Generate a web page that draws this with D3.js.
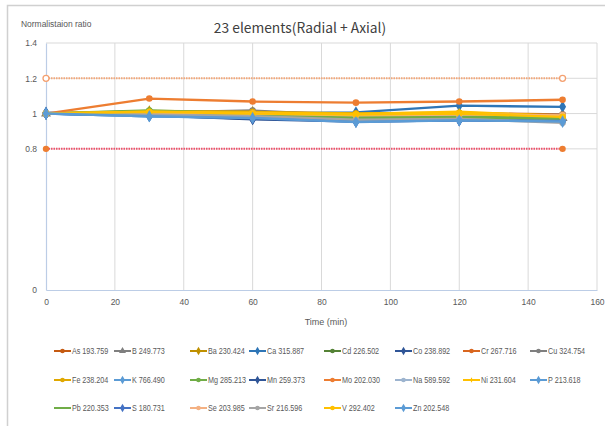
<!DOCTYPE html>
<html><head><meta charset="utf-8">
<script src="https://cdn.jsdelivr.net/npm/d3@7"></script>
<style>
body{margin:0;background:#fff;}
text{font-family:"Liberation Sans",Arial,sans-serif;fill:#595959;}
</style></head>
<body><svg id="c" width="605" height="426"></svg>
<script>
const times = [0, 30, 60, 90, 120, 150];
const xTicks = [0, 20, 40, 60, 80, 100, 120, 140, 160];
const yTicks = [0, 0.8, 1, 1.2, 1.4];
const limitTimes = [0, 150];
const upperLimit = [1.2, 1.2];
const lowerLimit = [0.8, 0.8];

const names = ["As 193.759","B 249.773","Ba 230.424","Ca 315.887","Cd 226.502","Co 238.892","Cr 267.716","Cu 324.754",
 "Fe 238.204","K 766.490","Mg 285.213","Mn 259.373","Mo 202.030","Na 589.592","Ni 231.604","P 213.618",
 "Pb 220.353","S 180.731","Se 203.985","Sr 216.596","V 292.402","Zn 202.548"];
const colors = ["#C55A11","#7F7F7F","#BF9000","#2E75B6","#548235","#2F5597","#D9661F","#7F7F7F",
 "#E0A800","#5B9BD5","#70AD47","#2F5597","#ED7D31","#9DB4CF","#FFC000","#5B9BD5",
 "#70AD47","#4472C4","#F4B183","#A5A5A5","#FFC000","#5B9BD5"];
const markers = ["circle","triangle","diamond","diamond","circle","diamond","circle","circle",
 "circle","diamond","circle","diamond","circle","circle","plus","diamond",
 "none","diamond","circle","circle","circle","diamond"];

const As = [1.0, 1.005, 1.0, 0.99, 0.995, 0.985];
const B  = [1.0, 1.0, 1.005, 0.985, 0.99, 0.975];
const Ba = [1.0, 1.012, 1.008, 0.995, 1.0, 0.99];
const Ca = [1.005, 0.995, 1.0, 1.007, 1.045, 1.038];
const Cd = [1.0, 1.0, 0.995, 0.975, 0.985, 0.97];
const Co = [1.0, 0.99, 0.968, 0.955, 0.962, 0.96];
const Cr = [1.0, 1.005, 1.01, 0.998, 1.002, 0.995];
const Cu = [1.0, 1.005, 1.017, 0.99, 0.985, 0.994];
const Fe = [1.0, 1.015, 1.01, 1.0, 1.005, 0.99];
const K  = [1.0, 0.985, 0.975, 0.958, 0.965, 0.957];
const Mg = [1.0, 1.017, 1.0, 0.985, 0.99, 0.98];
const Mn = [1.0, 0.99, 0.97, 0.96, 0.965, 0.96];
const Mo = [1.0, 1.085, 1.068, 1.062, 1.068, 1.078];
const Na = [1.0, 0.995, 0.985, 0.97, 0.975, 0.968];
const Ni = [1.0, 1.01, 1.005, 0.998, 1.01, 0.985];
const P  = [1.0, 0.985, 0.98, 0.96, 0.968, 0.955];
const Pb = [1.0, 1.0, 0.99, 0.975, 0.98, 0.97];
const S  = [1.0, 0.99, 0.975, 0.955, 0.962, 0.958];
const Se = [1.0, 1.005, 1.0, 0.99, 0.995, 0.99];
const Sr = [1.0, 0.995, 0.985, 0.965, 0.97, 0.948];
const V  = [1.0, 1.01, 1.0, 0.995, 1.0, 0.981];
const Zn = [1.0, 0.985, 0.975, 0.952, 0.962, 0.955];
const values = [As,B,Ba,Ca,Cd,Co,Cr,Cu,Fe,K,Mg,Mn,Mo,Na,Ni,P,Pb,S,Se,Sr,V,Zn];

const svg = d3.select("#c");
// chart frame
svg.append("rect").attr("x",7.5).attr("y",5.5).attr("width",610).attr("height",430)
  .attr("fill","#fff").attr("stroke","#d0d0d0").attr("stroke-width",1.5);

const x = d3.scaleLinear().domain([0,160]).range([46,597]);
const y = d3.scaleLinear().domain([0,1.4]).range([290,43]);

// gridlines
svg.append("g").selectAll("line").data(yTicks.filter(d=>d>0)).join("line")
  .attr("x1",x(0)).attr("x2",x(160)).attr("y1",d=>y(d)).attr("y2",d=>y(d))
  .attr("stroke","#d9d9d9").attr("stroke-width",1);
svg.append("g").selectAll("line").data(xTicks.filter(d=>d>0)).join("line")
  .attr("y1",y(0)).attr("y2",y(1.4)).attr("x1",d=>x(d)).attr("x2",d=>x(d))
  .attr("stroke","#d9d9d9").attr("stroke-width",1);

// axes
const xAxis = svg.append("g").attr("transform",`translate(0,${y(0)})`)
  .call(d3.axisBottom(x).tickValues(xTicks).tickSize(0).tickPadding(9).tickFormat(d3.format("d")));
xAxis.select(".domain").attr("stroke","#bccde6").attr("stroke-width",1.2);
const yAxis = svg.append("g").attr("transform",`translate(${x(0)},0)`)
  .call(d3.axisLeft(y).tickValues(yTicks).tickSize(0).tickPadding(9).tickFormat(d=>String(d)));
yAxis.select(".domain").attr("stroke","#bccde6").attr("stroke-width",1.2);
svg.selectAll(".tick text").attr("font-size",8.5).attr("fill","#595959")
  .attr("font-family",'"Liberation Sans",sans-serif');

// titles
svg.append("text").attr("x",300).attr("y",33).attr("text-anchor","middle")
  .attr("font-size",13.8).style("font-family",'"Noto Sans CJK KR","Noto Sans",sans-serif').style("fill","#404040")
  .text("23 elements(Radial + Axial)");
svg.append("text").attr("transform","translate(21,27) scale(0.94,1)").attr("font-size",9).text("Normalistaion ratio");
svg.append("text").attr("x",326).attr("y",325).attr("text-anchor","middle").attr("font-size",9).text("Time (min)");

const line = d3.line().x(d=>x(d[0])).y(d=>y(d[1]));

function drawMarker(g, type, cx, cy, color, r){
  if(type==="none") return;
  if(type==="circle") g.append("circle").attr("cx",cx).attr("cy",cy).attr("r",r).attr("fill",color);
  else if(type==="diamond") g.append("path").attr("d",d3.symbol(d3.symbolDiamond, r*r*4)()).attr("transform",`translate(${cx},${cy})`).attr("fill",color);
  else if(type==="triangle") g.append("path").attr("d",d3.symbol(d3.symbolTriangle, r*r*4)()).attr("transform",`translate(${cx},${cy})`).attr("fill",color);
  else if(type==="plus") g.append("path").attr("d",`M${cx-r},${cy}H${cx+r}M${cx},${cy-r}V${cy+r}`).attr("stroke",color).attr("stroke-width",1.2);
}

// limit lines
const upPts = limitTimes.map((t,i)=>[t,upperLimit[i]]);
const loPts = limitTimes.map((t,i)=>[t,lowerLimit[i]]);
svg.append("path").attr("d",line(upPts)).attr("fill","none").attr("stroke","#F4A87A").attr("stroke-width",2).attr("stroke-dasharray","1.5,1");
svg.append("path").attr("d",line(loPts)).attr("fill","none").attr("stroke","#F0506A").attr("stroke-width",2).attr("stroke-dasharray","1.5,1");
upPts.forEach(p=>svg.append("circle").attr("cx",x(p[0])).attr("cy",y(p[1])).attr("r",3).attr("fill","#fff").attr("stroke","#F4A070").attr("stroke-width",1.3));
loPts.forEach(p=>svg.append("circle").attr("cx",x(p[0])).attr("cy",y(p[1])).attr("r",3.2).attr("fill","#ED7D31"));

// series
const sg = svg.append("g");
d3.range(names.length).forEach(i=>{
  const pts = times.map((t,j)=>[t,values[i][j]]);
  const g = sg.append("g");
  g.append("path").attr("d",line(pts)).attr("fill","none").attr("stroke",colors[i]).attr("stroke-width",2.4).attr("stroke-linejoin","round");
  pts.forEach(p=>drawMarker(g, markers[i], x(p[0]), y(p[1]), colors[i], 3.3));
});

// legend
const colX = [54,114,190,249,324,395,463,530];
const rowY = [351,380,408];
const lg = svg.append("g");
names.forEach((n,i)=>{
  const cx = colX[i%8], cy = rowY[Math.floor(i/8)];
  const g = lg.append("g");
  g.append("line").attr("x1",cx).attr("x2",cx+17).attr("y1",cy).attr("y2",cy).attr("stroke",colors[i]).attr("stroke-width",2);
  drawMarker(g, markers[i], cx+8.5, cy, colors[i], 2.3);
  g.append("text").attr("transform",`translate(${cx+18},${cy+3}) scale(0.8,1)`).attr("font-size",9).text(n);
});
</script></body></html>
